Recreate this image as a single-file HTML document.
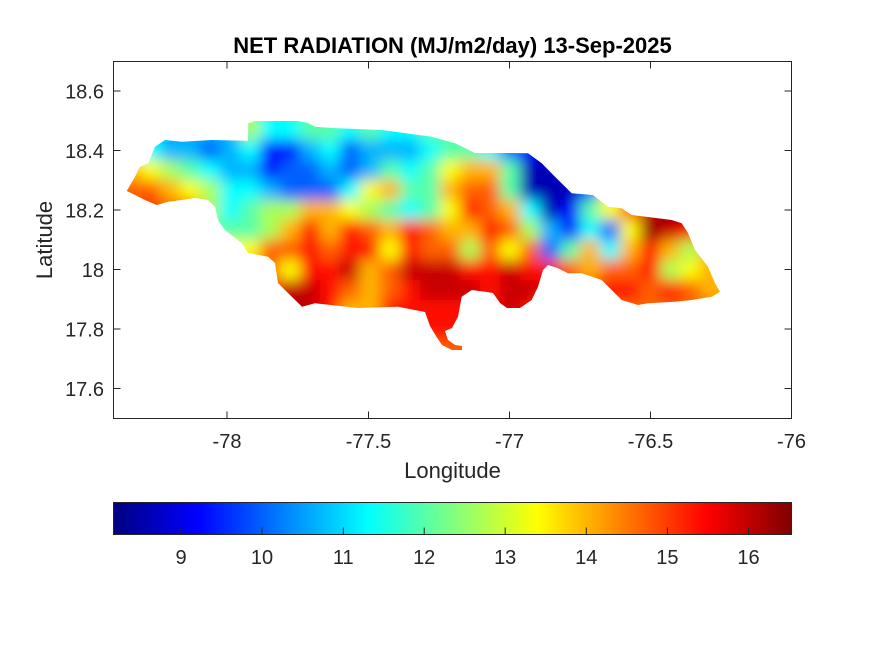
<!DOCTYPE html>
<html>
<head>
<meta charset="utf-8">
<style>
html,body{margin:0;padding:0;background:#fff;}
svg{display:block;}
text{font-family:"Liberation Sans",Arial,sans-serif;fill:#262626;}
.v0{fill:#0000b3}.v1{fill:#0010ff}.v2{fill:#0060ff}.v3{fill:#00b3ff}.v4{fill:#00ffff}
.v5{fill:#57ffa8}.v6{fill:#a8ff57}.v7{fill:#faff05}.v8{fill:#ffb300}.v9{fill:#ff6100}
.va{fill:#ff0f00}.vb{fill:#c70000}.vc{fill:#940000}
</style>
</head>
<body>
<svg width="875" height="656" viewBox="0 0 875 656" xmlns="http://www.w3.org/2000/svg">
<defs>
<clipPath id="isl">
<polygon points="126.7,191 135,176.7 140,166.7 148.3,163.3 155,146.7 165,140 181.7,141.7 211.7,140 248,140.7 248.3,123.3 255,121 298,121 308,123 315,126.7 331.7,128 381.7,130 431.7,136.7 455,143.3 475,153 508,153 528,153.3 541.7,163.3 555,176.7 571.7,193.3 593,195 608,206.7 621.7,208.3 631.7,215 671.7,220 681.7,223.3 688,233 695,250 708,266.7 715,283.3 720,291.7 711.7,296.7 691.7,300 675,301.7 648,303.3 638,305 621.7,300 611.7,290 601.7,280 581.7,273.3 568,273.3 558,268.3 548,265 543,270 538,286.7 531.7,300 520,308 507,308 500,303 493,293 485,291.7 471.7,290 461.7,296.7 458,316.7 452,328 445,331 448,340 455,345 462,346 462,350 452,350 442,345 436,336 430,326 425,312 398,306.7 358,308 315,303.3 302,306.7 288,293 278,283 275,263 268,256.7 248,253 241.7,243 225,230 218,220 215,206.7 208,200 195,198 181.7,200 168,201.7 156.7,205 145,200 135,195"/>
</clipPath>
<filter id="bl" x="-5%" y="-5%" width="110%" height="110%">
<feGaussianBlur stdDeviation="7"/>
</filter>
<linearGradient id="jet" x1="0" y1="0" x2="1" y2="0">
<stop offset="0" stop-color="#000080"/>
<stop offset="0.125" stop-color="#0000ff"/>
<stop offset="0.375" stop-color="#00ffff"/>
<stop offset="0.625" stop-color="#ffff00"/>
<stop offset="0.875" stop-color="#ff0000"/>
<stop offset="1" stop-color="#800000"/>
</linearGradient>
</defs>

<rect x="0" y="0" width="875" height="656" fill="#fff"/>

<g clip-path="url(#isl)">
<g filter="url(#bl)">
<!-- r0 -->
<rect class="v4" x="90" y="90" width="70" height="50"/>
<rect class="v3" x="160" y="90" width="80" height="50"/>
<rect class="v6" x="240" y="90" width="20" height="50"/>
<rect class="v4" x="260" y="90" width="40" height="50"/>
<rect class="v5" x="300" y="90" width="40" height="50"/>
<rect class="v4" x="340" y="90" width="20" height="50"/>
<rect class="v5" x="360" y="90" width="20" height="50"/>
<rect class="v4" x="380" y="90" width="40" height="50"/>
<rect class="v5" x="420" y="90" width="60" height="50"/>
<rect class="v4" x="480" y="90" width="20" height="50"/>
<rect class="v3" x="500" y="90" width="20" height="50"/>
<rect class="v2" x="520" y="90" width="20" height="50"/>
<rect class="v1" x="540" y="90" width="210" height="50"/>
<!-- r1 -->
<rect class="v7" x="90" y="140" width="50" height="20"/>
<rect class="v4" x="140" y="140" width="20" height="20"/>
<rect class="v3" x="160" y="140" width="40" height="20"/>
<rect class="v2" x="200" y="140" width="20" height="20"/>
<rect class="v3" x="220" y="140" width="20" height="20"/>
<rect class="v4" x="240" y="140" width="20" height="20"/>
<rect class="v1" x="260" y="140" width="40" height="20"/>
<rect class="v3" x="300" y="140" width="20" height="20"/>
<rect class="v4" x="320" y="140" width="20" height="20"/>
<rect class="v2" x="340" y="140" width="20" height="20"/>
<rect class="v3" x="360" y="140" width="60" height="20"/>
<rect class="v4" x="420" y="140" width="20" height="20"/>
<rect class="v5" x="440" y="140" width="40" height="20"/>
<rect class="v4" x="480" y="140" width="20" height="20"/>
<rect class="v2" x="500" y="140" width="20" height="20"/>
<rect class="v1" x="520" y="140" width="230" height="20"/>
<!-- r2 -->
<rect class="v8" x="90" y="160" width="50" height="20"/>
<rect class="v7" x="140" y="160" width="20" height="20"/>
<rect class="v6" x="160" y="160" width="20" height="20"/>
<rect class="v5" x="180" y="160" width="20" height="20"/>
<rect class="v4" x="200" y="160" width="20" height="20"/>
<rect class="v3" x="220" y="160" width="40" height="20"/>
<rect class="v1" x="260" y="160" width="20" height="20"/>
<rect class="v2" x="280" y="160" width="40" height="20"/>
<rect class="v3" x="320" y="160" width="20" height="20"/>
<rect class="v2" x="340" y="160" width="20" height="20"/>
<rect class="v3" x="360" y="160" width="20" height="20"/>
<rect class="v5" x="380" y="160" width="20" height="20"/>
<rect class="v4" x="400" y="160" width="20" height="20"/>
<rect class="v5" x="420" y="160" width="20" height="20"/>
<rect class="v7" x="440" y="160" width="20" height="20"/>
<rect class="v8" x="460" y="160" width="40" height="20"/>
<rect class="v5" x="500" y="160" width="20" height="20"/>
<rect class="v0" x="520" y="160" width="20" height="20"/>
<rect class="v0" x="540" y="160" width="20" height="20"/>
<rect class="v1" x="560" y="160" width="190" height="20"/>
<!-- r3 -->
<rect class="v9" x="90" y="180" width="50" height="20"/>
<rect class="v9" x="140" y="180" width="20" height="20"/>
<rect class="v8" x="160" y="180" width="20" height="20"/>
<rect class="v7" x="180" y="180" width="20" height="20"/>
<rect class="v6" x="200" y="180" width="20" height="20"/>
<rect class="v4" x="220" y="180" width="40" height="20"/>
<rect class="v3" x="260" y="180" width="20" height="20"/>
<rect class="v2" x="280" y="180" width="60" height="20"/>
<rect class="v4" x="340" y="180" width="20" height="20"/>
<rect class="v7" x="360" y="180" width="20" height="20"/>
<rect class="v8" x="380" y="180" width="20" height="20"/>
<rect class="v5" x="400" y="180" width="40" height="20"/>
<rect class="v8" x="440" y="180" width="20" height="20"/>
<rect class="v9" x="460" y="180" width="40" height="20"/>
<rect class="v5" x="500" y="180" width="20" height="20"/>
<rect class="v0" x="520" y="180" width="20" height="20"/>
<rect class="v0" x="540" y="180" width="40" height="20"/>
<rect class="v2" x="580" y="180" width="20" height="20"/>
<rect class="v7" x="600" y="180" width="20" height="20"/>
<rect class="v9" x="620" y="180" width="20" height="20"/>
<rect class="vb" x="640" y="180" width="110" height="20"/>
<!-- r4 -->
<rect class="v9" x="90" y="200" width="50" height="20"/>
<rect class="va" x="140" y="200" width="20" height="20"/>
<rect class="v9" x="160" y="200" width="40" height="20"/>
<rect class="v6" x="200" y="200" width="20" height="20"/>
<rect class="v4" x="220" y="200" width="20" height="20"/>
<rect class="v5" x="240" y="200" width="20" height="20"/>
<rect class="v6" x="260" y="200" width="40" height="20"/>
<rect class="v8" x="300" y="200" width="40" height="20"/>
<rect class="v7" x="340" y="200" width="20" height="20"/>
<rect class="v6" x="360" y="200" width="20" height="20"/>
<rect class="v5" x="380" y="200" width="20" height="20"/>
<rect class="v4" x="400" y="200" width="20" height="20"/>
<rect class="v5" x="420" y="200" width="20" height="20"/>
<rect class="v7" x="440" y="200" width="20" height="20"/>
<rect class="va" x="460" y="200" width="20" height="20"/>
<rect class="v9" x="480" y="200" width="20" height="20"/>
<rect class="v8" x="500" y="200" width="20" height="20"/>
<rect class="v4" x="520" y="200" width="20" height="20"/>
<rect class="v0" x="540" y="200" width="20" height="20"/>
<rect class="v1" x="560" y="200" width="20" height="20"/>
<rect class="v5" x="580" y="200" width="20" height="20"/>
<rect class="v7" x="600" y="200" width="20" height="20"/>
<rect class="v9" x="620" y="200" width="20" height="20"/>
<rect class="vb" x="640" y="200" width="20" height="20"/>
<rect class="vc" x="660" y="200" width="20" height="20"/>
<rect class="vb" x="680" y="200" width="70" height="20"/>
<!-- r5 -->
<rect class="v9" x="90" y="220" width="50" height="20"/>
<rect class="va" x="140" y="220" width="20" height="20"/>
<rect class="v9" x="160" y="220" width="40" height="20"/>
<rect class="v5" x="200" y="220" width="60" height="20"/>
<rect class="v6" x="260" y="220" width="20" height="20"/>
<rect class="v8" x="280" y="220" width="20" height="20"/>
<rect class="va" x="300" y="220" width="20" height="20"/>
<rect class="v8" x="320" y="220" width="20" height="20"/>
<rect class="va" x="340" y="220" width="20" height="20"/>
<rect class="v9" x="360" y="220" width="20" height="20"/>
<rect class="v8" x="380" y="220" width="20" height="20"/>
<rect class="va" x="400" y="220" width="20" height="20"/>
<rect class="v9" x="420" y="220" width="20" height="20"/>
<rect class="v8" x="440" y="220" width="40" height="20"/>
<rect class="va" x="480" y="220" width="20" height="20"/>
<rect class="v9" x="500" y="220" width="20" height="20"/>
<rect class="v6" x="520" y="220" width="20" height="20"/>
<rect class="v3" x="540" y="220" width="20" height="20"/>
<rect class="v1" x="560" y="220" width="20" height="20"/>
<rect class="v4" x="580" y="220" width="20" height="20"/>
<rect class="v2" x="600" y="220" width="20" height="20"/>
<rect class="v7" x="620" y="220" width="20" height="20"/>
<rect class="vc" x="640" y="220" width="20" height="20"/>
<rect class="vb" x="660" y="220" width="20" height="20"/>
<rect class="va" x="680" y="220" width="70" height="20"/>
<!-- r6 -->
<rect class="v9" x="90" y="240" width="110" height="20"/>
<rect class="v7" x="200" y="240" width="60" height="20"/>
<rect class="v9" x="260" y="240" width="40" height="20"/>
<rect class="va" x="300" y="240" width="20" height="20"/>
<rect class="v9" x="320" y="240" width="20" height="20"/>
<rect class="va" x="340" y="240" width="40" height="20"/>
<rect class="v7" x="380" y="240" width="20" height="20"/>
<rect class="va" x="400" y="240" width="20" height="20"/>
<rect class="v9" x="420" y="240" width="40" height="20"/>
<rect class="v6" x="460" y="240" width="20" height="20"/>
<rect class="v9" x="480" y="240" width="20" height="20"/>
<rect class="v7" x="500" y="240" width="20" height="20"/>
<rect class="v9" x="520" y="240" width="20" height="20"/>
<rect class="v2" x="540" y="240" width="20" height="20"/>
<rect class="v5" x="560" y="240" width="20" height="20"/>
<rect class="v8" x="580" y="240" width="20" height="20"/>
<rect class="v4" x="600" y="240" width="20" height="20"/>
<rect class="v8" x="620" y="240" width="20" height="20"/>
<rect class="va" x="640" y="240" width="20" height="20"/>
<rect class="v8" x="660" y="240" width="20" height="20"/>
<rect class="v6" x="680" y="240" width="20" height="20"/>
<rect class="v8" x="700" y="240" width="50" height="20"/>
<!-- r7 -->
<rect class="v9" x="90" y="260" width="130" height="20"/>
<rect class="v8" x="220" y="260" width="40" height="20"/>
<rect class="v9" x="260" y="260" width="20" height="20"/>
<rect class="v7" x="280" y="260" width="20" height="20"/>
<rect class="va" x="300" y="260" width="40" height="20"/>
<rect class="vb" x="340" y="260" width="20" height="20"/>
<rect class="v8" x="360" y="260" width="20" height="20"/>
<rect class="v9" x="380" y="260" width="20" height="20"/>
<rect class="vb" x="400" y="260" width="60" height="20"/>
<rect class="va" x="460" y="260" width="40" height="20"/>
<rect class="vb" x="500" y="260" width="20" height="20"/>
<rect class="va" x="520" y="260" width="40" height="20"/>
<rect class="v9" x="560" y="260" width="20" height="20"/>
<rect class="v8" x="580" y="260" width="20" height="20"/>
<rect class="v9" x="600" y="260" width="40" height="20"/>
<rect class="va" x="640" y="260" width="20" height="20"/>
<rect class="v6" x="660" y="260" width="20" height="20"/>
<rect class="v7" x="680" y="260" width="20" height="20"/>
<rect class="v8" x="700" y="260" width="50" height="20"/>
<!-- r8 -->
<rect class="va" x="90" y="280" width="190" height="20"/>
<rect class="vb" x="280" y="280" width="40" height="20"/>
<rect class="va" x="320" y="280" width="20" height="20"/>
<rect class="v9" x="340" y="280" width="20" height="20"/>
<rect class="v8" x="360" y="280" width="20" height="20"/>
<rect class="v9" x="380" y="280" width="20" height="20"/>
<rect class="va" x="400" y="280" width="20" height="20"/>
<rect class="vb" x="420" y="280" width="60" height="20"/>
<rect class="va" x="480" y="280" width="20" height="20"/>
<rect class="vb" x="500" y="280" width="40" height="20"/>
<rect class="va" x="540" y="280" width="100" height="20"/>
<rect class="v9" x="640" y="280" width="20" height="20"/>
<rect class="va" x="660" y="280" width="20" height="20"/>
<rect class="v9" x="680" y="280" width="20" height="20"/>
<rect class="v8" x="700" y="280" width="50" height="20"/>
<!-- r9 -->
<rect class="va" x="90" y="300" width="190" height="20"/>
<rect class="vc" x="280" y="300" width="20" height="20"/>
<rect class="vb" x="300" y="300" width="20" height="20"/>
<rect class="va" x="320" y="300" width="20" height="20"/>
<rect class="v8" x="340" y="300" width="40" height="20"/>
<rect class="va" x="380" y="300" width="120" height="20"/>
<rect class="vb" x="500" y="300" width="20" height="20"/>
<rect class="va" x="520" y="300" width="20" height="20"/>
<rect class="v9" x="540" y="300" width="210" height="20"/>
<!-- r10, r11 -->
<rect class="va" x="90" y="320" width="660" height="20"/>
<rect class="v9" x="90" y="340" width="660" height="50"/>
</g>
</g>

<rect x="113.5" y="61.5" width="678" height="357" fill="none" stroke="#262626" stroke-width="1"/>
<g stroke="#262626" stroke-width="1">
<line x1="227" y1="418.5" x2="227" y2="411.5"/>
<line x1="368.5" y1="418.5" x2="368.5" y2="411.5"/>
<line x1="509.5" y1="418.5" x2="509.5" y2="411.5"/>
<line x1="650.5" y1="418.5" x2="650.5" y2="411.5"/>
<line x1="227" y1="61.5" x2="227" y2="68.5"/>
<line x1="368.5" y1="61.5" x2="368.5" y2="68.5"/>
<line x1="509.5" y1="61.5" x2="509.5" y2="68.5"/>
<line x1="650.5" y1="61.5" x2="650.5" y2="68.5"/>
<line x1="113.5" y1="91" x2="120.5" y2="91"/>
<line x1="113.5" y1="150.5" x2="120.5" y2="150.5"/>
<line x1="113.5" y1="210" x2="120.5" y2="210"/>
<line x1="113.5" y1="269.5" x2="120.5" y2="269.5"/>
<line x1="113.5" y1="329" x2="120.5" y2="329"/>
<line x1="113.5" y1="388.5" x2="120.5" y2="388.5"/>
<line x1="791.5" y1="91" x2="784.5" y2="91"/>
<line x1="791.5" y1="150.5" x2="784.5" y2="150.5"/>
<line x1="791.5" y1="210" x2="784.5" y2="210"/>
<line x1="791.5" y1="269.5" x2="784.5" y2="269.5"/>
<line x1="791.5" y1="329" x2="784.5" y2="329"/>
<line x1="791.5" y1="388.5" x2="784.5" y2="388.5"/>
</g>

<text x="452.5" y="53" font-size="22" font-weight="bold" text-anchor="middle" style="fill:#000">NET RADIATION (MJ/m2/day) 13-Sep-2025</text>

<g font-size="20" text-anchor="end">
<text x="104" y="98.5">18.6</text>
<text x="104" y="158">18.4</text>
<text x="104" y="217.5">18.2</text>
<text x="104" y="277">18</text>
<text x="104" y="336.5">17.8</text>
<text x="104" y="396">17.6</text>
</g>

<g font-size="20" text-anchor="middle">
<text x="227" y="448">-78</text>
<text x="368.5" y="448">-77.5</text>
<text x="509.5" y="448">-77</text>
<text x="650.5" y="448">-76.5</text>
<text x="791.5" y="448">-76</text>
</g>

<text x="452.5" y="478" font-size="22" text-anchor="middle">Longitude</text>
<text x="0" y="0" font-size="22" text-anchor="middle" transform="translate(52,240) rotate(-90)">Latitude</text>

<rect x="113.5" y="502.5" width="678" height="32" fill="url(#jet)" stroke="#262626" stroke-width="1"/>
<g stroke="#262626" stroke-width="1">
<line x1="181" y1="534.5" x2="181" y2="527.5"/>
<line x1="262" y1="534.5" x2="262" y2="527.5"/>
<line x1="343.3" y1="534.5" x2="343.3" y2="527.5"/>
<line x1="424.2" y1="534.5" x2="424.2" y2="527.5"/>
<line x1="505.2" y1="534.5" x2="505.2" y2="527.5"/>
<line x1="586.3" y1="534.5" x2="586.3" y2="527.5"/>
<line x1="667.4" y1="534.5" x2="667.4" y2="527.5"/>
<line x1="748.5" y1="534.5" x2="748.5" y2="527.5"/>
</g>
<g font-size="20" text-anchor="middle">
<text x="181" y="564">9</text>
<text x="262" y="564">10</text>
<text x="343.3" y="564">11</text>
<text x="424.2" y="564">12</text>
<text x="505.2" y="564">13</text>
<text x="586.3" y="564">14</text>
<text x="667.4" y="564">15</text>
<text x="748.5" y="564">16</text>
</g>
</svg>
</body>
</html>
